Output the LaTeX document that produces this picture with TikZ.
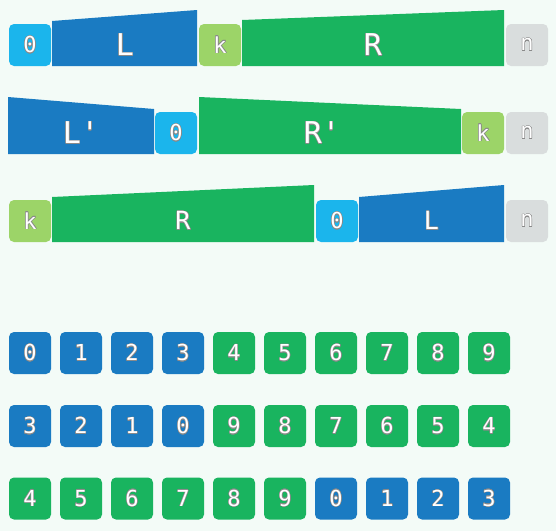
\documentclass[tikz,border=0pt]{standalone}
\usepackage{fontspec}
\setmonofont{DejaVu Sans Mono}
\usepackage{contour}
\contourlength{0.4pt}
\definecolor{bg}{HTML}{F3FBF7}
\definecolor{cblue}{HTML}{1A7BC2}
\definecolor{clblue}{HTML}{1BB5EC}
\definecolor{cgreen}{HTML}{19B45F}
\definecolor{clgreen}{HTML}{9CD468}
\definecolor{cgrey}{HTML}{D9DDDD}
\definecolor{cedge}{HTML}{8A8A8A}
\newcommand{\lbl}[1]{\contour{cedge}{\textcolor{white}{#1}}}
\begin{document}
\begin{tikzpicture}[x=1pt,y=-1pt,
  sq/.style={rounded corners=5pt,minimum width=42pt,minimum height=42pt,inner sep=0pt,
    font=\ttfamily\fontsize{22}{22}\selectfont},
  trap/.style={inner sep=0pt,font=\ttfamily\fontsize{30}{30}\selectfont},
  trapS/.style={inner sep=0pt,font=\ttfamily\fontsize{25}{25}\selectfont}]
\fill[bg] (0,0) rectangle (556,531);
\useasboundingbox (0,0) rectangle (556,531);
% Row 1
\node[sq,fill=clblue] (a0) at (30,45) {\lbl{0}};
\fill[cblue] (52,66) -- (52,21) -- (197,10) -- (197,66) -- cycle;
\node[trap] (aL) at (125,45) {\lbl{L}};
\node[sq,fill=clgreen] (ak) at (220,45) {\lbl{k}};
\fill[cgreen] (242,66) -- (242,20) -- (504,10) -- (504,66) -- cycle;
\node[trap] (aR) at (373,45) {\lbl{R}};
\node[sq,fill=cgrey] (an) at (527,45) {\lbl{n}};
% Row 2
\fill[cblue] (8,154) -- (8,97) -- (154,109) -- (154,154) -- cycle;
\node[trap] (bL) at (81,133) {\lbl{L'}};
\node[sq,fill=clblue] (b0) at (176,133) {\lbl{0}};
\fill[cgreen] (199,154) -- (199,97) -- (461,109) -- (461,154) -- cycle;
\node[trap] (bR) at (322,133) {\lbl{R'}};
\node[sq,fill=clgreen] (bk) at (483,133) {\lbl{k}};
\node[sq,fill=cgrey] (bn) at (527,133) {\lbl{n}};
% Row 3
\node[sq,fill=clgreen] (ck) at (30,221) {\lbl{k}};
\fill[cgreen] (52,242) -- (52,197) -- (314,185) -- (314,242) -- cycle;
\node[trapS] (cR) at (183,221) {\lbl{R}};
\node[sq,fill=clblue] (c0) at (337,221) {\lbl{0}};
\fill[cblue] (359,242) -- (359,197) -- (504,185) -- (504,242) -- cycle;
\node[trapS] (cL) at (431.5,221) {\lbl{L}};
\node[sq,fill=cgrey] (cn) at (527,221) {\lbl{n}};
% Digit rows
\foreach \d [count=\i from 0] in {0,1,2,3,4,5,6,7,8,9} {
  \pgfmathsetmacro{\cc}{\i<4 ? "cblue" : "cgreen"}
  \node[sq,fill=\cc] (r1\i) at (30+51*\i,353) {\lbl{\d}};
}
\foreach \d [count=\i from 0] in {3,2,1,0,9,8,7,6,5,4} {
  \pgfmathsetmacro{\cc}{\i<4 ? "cblue" : "cgreen"}
  \node[sq,fill=\cc] (r2\i) at (30+51*\i,426) {\lbl{\d}};
}
\foreach \d [count=\i from 0] in {4,5,6,7,8,9,0,1,2,3} {
  \pgfmathsetmacro{\cc}{\i<6 ? "cgreen" : "cblue"}
  \node[sq,fill=\cc] (r3\i) at (30+51*\i,498.5) {\lbl{\d}};
}
\end{tikzpicture}
\end{document}
